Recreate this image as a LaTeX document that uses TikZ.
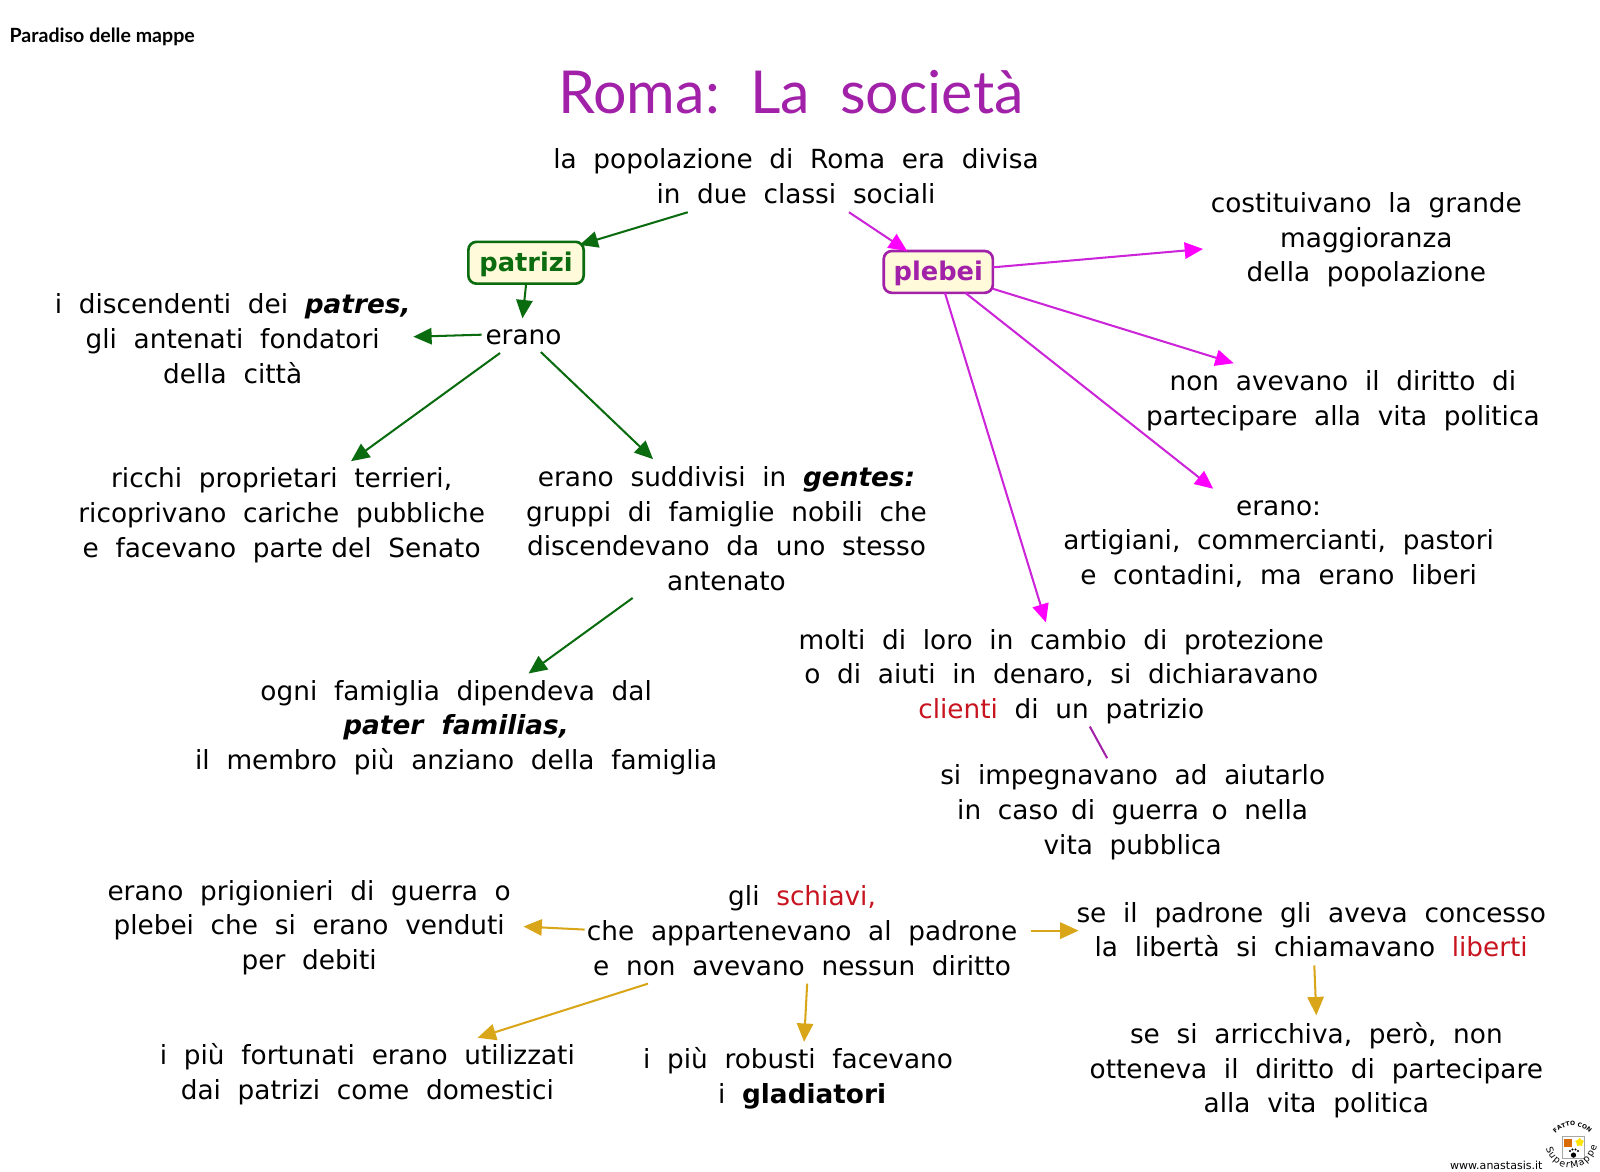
\documentclass[tikz,border=0pt]{standalone}
\usepackage{fontspec}
\setmainfont{DejaVu Sans}
\newfontfamily\titlefont{Lato}
\usetikzlibrary{arrows.meta,decorations.text,shapes.geometric}
\newlength{\du}
\setlength{\du}{0.5pt}
\definecolor{verde}{rgb}{0.04,0.42,0.06}
\definecolor{viola}{rgb}{0.63,0.13,0.66}
\definecolor{magenta1}{rgb}{0.80,0.14,0.85}
\definecolor{magenta2}{rgb}{1.00,0.00,1.00}
\definecolor{oro}{rgb}{0.85,0.65,0.10}
\definecolor{rosso}{rgb}{0.78,0.08,0.12}
\definecolor{crema}{rgb}{1.00,0.98,0.85}
\tikzset{
testo/.style={align=center,inner sep=0pt,font=\fontsize{12.9}{17}\selectfont},
classe/.style={draw,rounded corners=4pt,line width=1.3pt,fill=crema,inner sep=0pt,text depth=0.7pt,font=\fontsize{12.6}{17}\selectfont\bfseries},
frecciaverde/.style={draw=verde,line width=1pt,-{Stealth[inset=0pt,length=9pt,width=8pt]}},
frecciamagenta/.style={draw=magenta1,line width=1pt,-{Stealth[inset=0pt,length=9pt,width=8pt,color=magenta2]}},
frecciaoro/.style={draw=oro,line width=1pt,-{Stealth[inset=0pt,length=9pt,width=8pt]}},
}
\begin{document}
\begin{tikzpicture}[x=1\du,y=-1\du]
\useasboundingbox (0,0) rectangle (1568,1148.5);
\node[anchor=west,inner sep=0pt,font=\titlefont\fontsize{9.6}{12}\selectfont\bfseries] (paradiso) at (9,36) {Paradiso delle mappe};
\node[text=viola,font=\titlefont\fontsize{29}{32}\selectfont] (titolo) at (775,90) {Roma:~~La~~società};
\node[testo] (popolazione) at (780,173) {la~~popolazione~~di~~Roma~~era~~divisa\\in~~due~~classi~~sociali};
% le due classi
\node[classe,draw=verde,text=verde,minimum width=113\du,minimum height=41\du] (patrizi) at (515.5,257.5) {patrizi};
\node[classe,draw=viola,text=viola,minimum width=107\du,minimum height=41\du] (plebei) at (919.5,266.5) {plebei};
\node[testo] (erano) at (513,331) {erano};
\node[testo] (discendenti) at (228,332) {i~~discendenti~~dei~~\textbf{\textit{patres,}}\\gli~~antenati~~fondatori\\della~~città};
\node[testo] (ricchi) at (276,505) {ricchi~~proprietari~~terrieri,\\ricoprivano~~cariche~~pubbliche\\e~~facevano~~parte del~~Senato};
\node[testo] (gentes) at (712,518) {erano~~suddivisi~~in~~\textbf{\textit{gentes:}}\\gruppi~~di~~famiglie~~nobili~~che\\discendevano~~da~~uno~~stesso\\antenato};
\node[testo] (famiglia) at (447,713) {ogni~~famiglia~~dipendeva~~dal\\\textbf{\textit{pater~~familias,}}\\il~~membro~~più~~anziano~~della~~famiglia};
\node[testo] (maggioranza) at (1339,235) {costituivano~~la~~grande\\maggioranza\\della~~popolazione};
\node[testo] (diritto) at (1316,393) {non~~avevano~~il~~diritto~~di\\partecipare~~alla~~vita~~politica};
\node[testo] (artigiani) at (1253,533) {erano:\\artigiani,~~commercianti,~~pastori\\e~~contadini,~~ma~~erano~~liberi};
\node[testo] (clienti) at (1040,663) {molti~~di~~loro~~in~~cambio~~di~~protezione\\o~~di~~aiuti~~in~~denaro,~~si~~dichiaravano\\\textcolor{rosso}{clienti}~~di~~un~~patrizio};
\node[testo] (aiutarlo) at (1110,796) {si~~impegnavano~~ad~~aiutarlo\\in~~caso~\,di~~guerra~\,o~~nella\\vita~~pubblica};
\node[testo] (prigionieri) at (303,909) {erano~~prigionieri~~di~~guerra~~o\\plebei~~che~~si~~erano~~venduti\\per~~debiti};
\node[testo] (schiavi) at (786,912) {gli~~\textcolor{rosso}{schiavi,}\\che~~appartenevano~~al~~padrone\\e~~non~~avevano~~nessun~~diritto};
\node[testo] (liberti) at (1285,911) {se~~il~~padrone~~gli~~aveva~~concesso\\la~~libertà~~si~~chiamavano~~\textcolor{rosso}{liberti}};
\node[testo] (arricchiva) at (1290,1049) {se~~si~~arricchiva,~~però,~~non\\otteneva~~il~~diritto~~di~~partecipare\\alla~~vita~~politica};
\node[testo] (fortunati) at (360,1053) {i~~più~~fortunati~~erano~~utilizzati\\dai~~patrizi~~come~~domestici};
\node[testo] (robusti) at (782,1057) {i~~più~~robusti~~facevano\\\hspace{4pt}i~~\textbf{gladiatori}};
\node[anchor=east,inner sep=0pt,font=\fontsize{5.4}{7}\selectfont] (anastasis) at (1512,1142) {www.anastasis.it};
% frecce verdi
\draw[frecciaverde] ([shift={(-106,35)}]popolazione.center) -- ([shift={(52.5,-17.5)}]patrizi.center);
\draw[frecciaverde] (patrizi.south) -- ([shift={(-1,-19)}]erano.center);
\draw[frecciaverde] ([shift={(-41,-3)}]erano.center) -- ([shift={(177,-2)}]discendenti.center);
\draw[frecciaverde] ([shift={(-23,15)}]erano.center) -- ([shift={(68,-53)}]ricchi.center);
\draw[frecciaverde] ([shift={(17,14)}]erano.center) -- ([shift={(-72,-68)}]gentes.center);
\draw[frecciaverde] ([shift={(-92,68)}]gentes.center) -- ([shift={(71,-53)}]famiglia.center);
% frecce magenta
\draw[frecciamagenta] ([shift={(52,35)}]popolazione.center) -- ([shift={(-30.5,-20.5)}]plebei.center);
\draw[frecciamagenta] ([shift={(53.5,-4.5)}]plebei.center) -- ([shift={(-160,9)}]maggioranza.center);
\draw[frecciamagenta] ([shift={(53.5,16.5)}]plebei.center) -- ([shift={(-107,-37)}]diritto.center);
\draw[frecciamagenta] ([shift={(26.5,20.5)}]plebei.center) -- ([shift={(-64,-54)}]artigiani.center);
\draw[frecciamagenta] ([shift={(6.5,20.5)}]plebei.center) -- ([shift={(-15,-53)}]clienti.center);
\draw[draw=viola,line width=1pt] ([shift={(28,49)}]clienti.center) -- ([shift={(-25,-53)}]aiutarlo.center);
% frecce oro
\draw[frecciaoro] ([shift={(-213,-1)}]schiavi.center) -- ([shift={(210,-1)}]prigionieri.center);
\draw[frecciaoro] ([shift={(224,0)}]schiavi.center) -- ([shift={(-228,1)}]liberti.center);
\draw[frecciaoro] ([shift={(-151,52)}]schiavi.center) -- ([shift={(108,-36)}]fortunati.center);
\draw[frecciaoro] ([shift={(5,52)}]schiavi.center) -- ([shift={(6,-36)}]robusti.center);
\draw[frecciaoro] ([shift={(3,35)}]liberti.center) -- ([shift={(0,-54)}]arricchiva.center);
% logo
\draw[black!35,line width=0.4pt,fill=white] (1531,1114) rectangle (1553,1135);
\fill[orange!85!black] (1533,1116) rectangle (1541,1124);
\node[star,star points=5,fill=yellow!85!orange,inner sep=0pt,minimum size=9\du] (stella) at (1548,1119.5) {};
\fill[black] (1542,1132) circle (2.6) (1538.5,1128) circle (1.1) (1541,1126.5) circle (1.1) (1544,1126.5) circle (1.1) (1546.5,1128) circle (1.1);
\path[decorate,decoration={text along path,text align=center,text={|\fontsize{2.9}{4}\selectfont\bfseries|FATTO CON}}] (1525,1110) .. controls (1534,1101) and (1548,1101) .. (1557,1110);
\path[decorate,decoration={text along path,text align={fit to path},text={|\fontsize{4.6}{6}\selectfont|SuperMappe}}] (1515,1125) .. controls (1522,1152) and (1558,1152) .. (1565,1123);
\end{tikzpicture}
\end{document}
